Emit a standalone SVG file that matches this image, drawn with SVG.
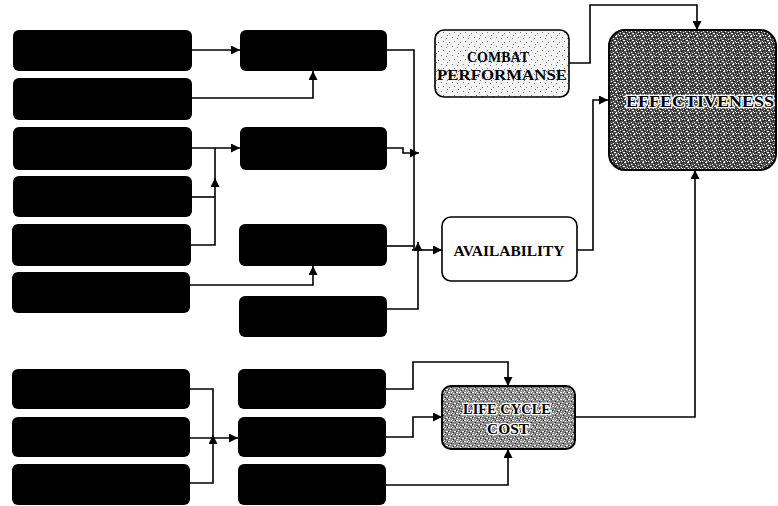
<svg xmlns="http://www.w3.org/2000/svg" width="778" height="506" viewBox="0 0 778 506">
<defs>
<style>
.blk{fill:#000;}
.wire{fill:none;stroke:#000;stroke-width:1.6;}
.arr{marker-end:url(#ah);}
.lbl{font-family:"Liberation Serif","Times New Roman",serif;fill:#000;text-anchor:middle;}
.bd{font-weight:bold;}
.halo{paint-order:stroke;stroke:#fff;stroke-width:2.5px;stroke-linejoin:round;font-weight:bold;}
</style>
<marker id="ah" viewBox="0 0 10 10" refX="10" refY="5" markerWidth="9" markerHeight="9" markerUnits="userSpaceOnUse" orient="auto">
<path d="M0 0L10 5L0 10z" fill="#000"/>
</marker>
<pattern id="pDark" width="9" height="7" patternUnits="userSpaceOnUse">
<rect width="9" height="7" fill="#4e4e4e"/>
<path d="M0 0h1v1H0zM3 1h2v1H3zM7 0h1v1H7zM1 3h1v1H1zM5 3h1v1H5zM8 4h1v1H8zM2 5h2v1H2zM6 6h1v1H6zM4 0h1v1H4z" fill="#fff"/>
<path d="M2 1h1v1H2zM6 2h1v1H6zM0 5h1v1H0zM4 4h1v1H4zM7 6h1v1H7zM8 1h1v1H8z" fill="#000"/>
</pattern>
<pattern id="pMid" width="8" height="7" patternUnits="userSpaceOnUse">
<rect width="8" height="7" fill="#8a8a8a"/>
<path d="M0 0h2v1H0zM5 1h1v1H5zM2 3h1v1H2zM6 4h2v1H6zM1 5h1v1H1zM4 6h1v1H4zM3 0h1v1H3z" fill="#fff"/>
<path d="M3 2h1v1H3zM7 0h1v1H7zM0 4h1v1H0zM5 5h1v1H5z" fill="#222"/>
</pattern>
<pattern id="pLight" width="11" height="9" patternUnits="userSpaceOnUse">
<rect width="11" height="9" fill="#f4f4f4"/>
<path d="M1 1h1v1H1zM6 2h1v1H6zM3 5h1v1H3zM9 6h1v1H9zM7 8h1v1H7z" fill="#777"/>
</pattern>
</defs>

<g id="connectors">
<path class="wire arr" d="M192 50H240"/>
<path class="wire arr" d="M192 98H313V71"/>
<path class="wire arr" d="M192 148H240"/>
<path class="wire" d="M192 197H215"/>
<path class="wire arr" d="M191 245H215V178"/>
<path class="wire" d="M215 179V148"/>
<path class="wire arr" d="M190 285H313V266"/>
<path class="wire" d="M387 50H414V250"/>
<path class="wire arr" d="M387 148H403V153H419"/>
<path class="wire" d="M387 246H414"/>
<path class="wire arr" d="M387 309H418V242"/>
<path class="wire arr" d="M412 250H442"/>
<path class="wire arr" d="M577 250H593V100H608"/>
<path class="wire arr" d="M569 63H590V5H697V30"/>
<path class="wire arr" d="M575 417H695V170"/>
<path class="wire" d="M190 389H213V436"/>
<path class="wire arr" d="M190 483H213V435"/>
<path class="wire arr" d="M190 438H238"/>
<path class="wire arr" d="M386 389H413V362H508V386"/>
<path class="wire arr" d="M386 437H413V417H442"/>
<path class="wire arr" d="M386 485H508V449"/>
</g>

<g id="L1"><rect class="blk" x="13" y="30" width="179" height="41" rx="6"/></g>
<g id="L2"><rect class="blk" x="13" y="78" width="179" height="42" rx="6"/></g>
<g id="L3"><rect class="blk" x="13" y="127" width="179" height="43" rx="6"/></g>
<g id="L4"><rect class="blk" x="13" y="176" width="179" height="41" rx="6"/></g>
<g id="L5"><rect class="blk" x="12" y="224" width="179" height="42" rx="6"/></g>
<g id="L6"><rect class="blk" x="12" y="272" width="178" height="41" rx="6"/></g>
<g id="L7"><rect class="blk" x="12" y="369" width="178" height="40" rx="6"/></g>
<g id="L8"><rect class="blk" x="12" y="417" width="178" height="40" rx="6"/></g>
<g id="L9"><rect class="blk" x="12" y="464" width="178" height="41" rx="6"/></g>

<g id="M1"><rect class="blk" x="240" y="30" width="147" height="41" rx="6"/></g>
<g id="M2"><rect class="blk" x="240" y="127" width="147" height="43" rx="6"/></g>
<g id="M3"><rect class="blk" x="239" y="224" width="148" height="42" rx="6"/></g>
<g id="M4"><rect class="blk" x="239" y="296" width="148" height="41" rx="6"/></g>
<g id="M5"><rect class="blk" x="238" y="369" width="148" height="40" rx="6"/></g>
<g id="M6"><rect class="blk" x="238" y="417" width="148" height="40" rx="6"/></g>
<g id="M7"><rect class="blk" x="238" y="464" width="148" height="41" rx="6"/></g>

<g id="combat">
<rect x="435" y="30" width="134" height="67" rx="9" fill="url(#pLight)" stroke="#000" stroke-width="1.6"/>
<text class="lbl bd" x="498" y="62" font-size="15" textLength="62" lengthAdjust="spacingAndGlyphs">COMBAT</text>
<text class="lbl bd" x="502" y="80" font-size="15" textLength="130" lengthAdjust="spacingAndGlyphs">PERFORMANSE</text>
</g>

<g id="effectiveness">
<rect x="609" y="30" width="167" height="140" rx="16" fill="url(#pDark)" stroke="#000" stroke-width="2"/>
<text class="lbl halo" x="700" y="107" font-size="16" textLength="148" lengthAdjust="spacingAndGlyphs">EFFECTIVENESS</text>
</g>

<g id="availability">
<rect x="442" y="217" width="135" height="64" rx="9" fill="#fff" stroke="#000" stroke-width="1.6"/>
<text class="lbl bd" x="509" y="256" font-size="14" textLength="111" lengthAdjust="spacingAndGlyphs">AVAILABILITY</text>
</g>

<g id="lcc">
<rect x="442" y="386" width="133" height="63" rx="9" fill="url(#pMid)" stroke="#000" stroke-width="2"/>
<text class="lbl halo" x="507" y="414" font-size="14" textLength="88" lengthAdjust="spacingAndGlyphs">LIFE CYCLE</text>
<text class="lbl halo" x="508" y="434" font-size="14" textLength="42" lengthAdjust="spacingAndGlyphs">COST</text>
</g>
</svg>
